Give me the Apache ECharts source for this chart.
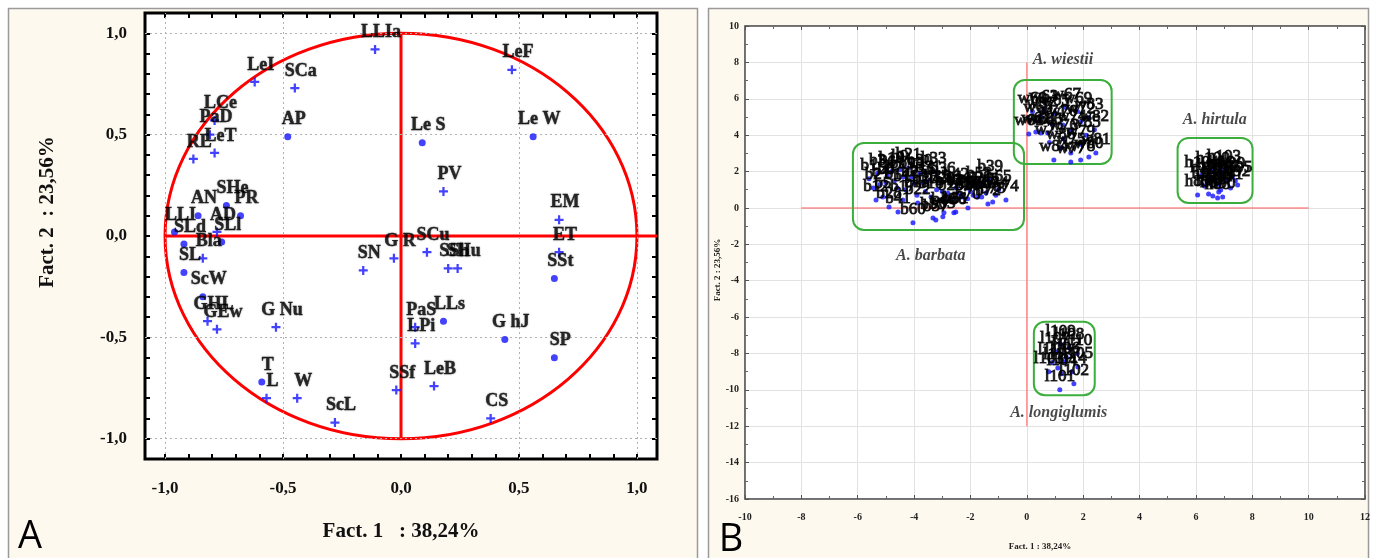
<!DOCTYPE html>
<html><head><meta charset="utf-8">
<script src="https://cdn.jsdelivr.net/npm/echarts@6/dist/echarts.min.js"></script>
<style>html,body{margin:0;padding:0;background:#fff}#c{width:1375px;height:558px}</style>
</head><body><div id="c"></div>
<script>
// ---------- Panel A : correlation circle ----------
const tickValuesA = [-1.0,-0.9,-0.8,-0.7,-0.6,-0.5,-0.4,-0.3,-0.2,-0.1,0,0.1,0.2,0.3,0.4,0.5,0.6,0.7,0.8,0.9,1.0];
const labelValuesA = [-1.0,-0.5,0,0.5,1.0];
const gridValuesA = [-1.0,-0.5,0.5,1.0];
const circleRadiusA = 1;
const axisTitleA1 = 'Fact. 1   : 38,24%';
const axisTitleA2 = 'Fact. 2  : 23,56%';
// [x, y, name]  (plus markers)
const plusVars = [
  [-0.11,0.92,'LLIa'],[-0.62,0.76,'LeI'],[-0.45,0.73,'SCa'],[-0.79,0.57,'LCe'],
  [-0.81,0.50,'PaD'],[-0.79,0.41,'LeT'],[-0.88,0.38,'RL'],[-0.78,0.02,'AD'],
  [-0.84,-0.11,'Bla'],[-0.82,-0.42,'GHL'],[-0.78,-0.46,'GEw'],[-0.53,-0.45,'G Nu'],
  [-0.57,-0.80,'L'],[-0.44,-0.80,'W'],[-0.28,-0.92,'ScL'],[-0.02,-0.76,'SSf'],
  [-0.16,-0.17,'SN'],[-0.03,-0.11,'G R'],[0.11,-0.08,'SCu'],[0.20,-0.16,'SSh'],
  [0.24,-0.16,'SHu'],[0.06,-0.45,'PaS'],[0.06,-0.53,'LPi'],[0.67,-0.08,'ET'],
  [0.67,0.08,'EM'],[0.14,-0.74,'LeB'],[0.38,-0.90,'CS'],[0.47,0.82,'LeF'],[0.18,0.22,'PV']
];
// [x, y, name]  (dot markers)
const dotVars = [
  [-0.48,0.49,'AP'],[-0.74,0.15,'SHe'],[-0.86,0.10,'AN'],[-0.68,0.10,'PR'],
  [-0.96,0.02,'LLI'],[-0.92,-0.04,'SLd'],[-0.76,-0.03,'SLl'],[-0.92,-0.18,'SL'],
  [-0.84,-0.30,'ScW'],[-0.59,-0.72,'T'],[0.18,-0.42,'LLs'],[0.44,-0.51,'G hJ'],
  [0.65,-0.60,'SP'],[0.65,-0.21,'SSt'],[0.09,0.46,'Le S'],[0.56,0.49,'Le W']
];

// ---------- Panel B : individuals ----------
const axisTitleB1 = 'Fact. 1 : 38,24%';
const axisTitleB2 = 'Fact. 2 : 23,56%';
const barbata = [
  [-5.35,0.44,'b12'],[-5.11,0.60,'b5'],[-4.89,0.05,'b28'],[-4.57,-0.22,'b41'],[-4.40,0.44,'b17'],
  [-4.04,-0.82,'b60'],[-3.87,0.27,'b22'],[-3.33,-0.55,'b55'],[-3.23,-0.66,'b57'],[-2.98,-0.49,'b63'],
  [-2.94,-0.27,'b48'],[-2.59,-0.27,'b66'],[-2.52,-0.22,'b51'],[-2.09,0.00,'b70'],[-1.74,0.60,'b68'],
  [-1.45,0.82,'b45'],[-1.38,0.22,'b72'],[-1.21,0.33,'b73'],[-0.74,0.44,'b74'],[-2.98,1.43,'b36'],
  [-5.6,1.6,'b1'],[-5.3,1.9,'b3'],[-5.0,1.4,'b8'],[-4.8,2.0,'b10'],[-4.6,1.1,'b14'],
  [-4.4,1.7,'b19'],[-4.2,2.2,'b21'],[-4.0,1.3,'b25'],[-3.8,1.9,'b30'],[-3.6,0.9,'b27'],
  [-3.5,1.5,'b31'],[-3.3,2.0,'b33'],[-3.2,1.0,'b35'],[-2.8,0.8,'b40'],[-2.5,1.1,'b42'],
  [-2.3,0.6,'b50'],[-2.0,0.9,'b52'],[-1.7,1.2,'b58'],[-1.3,1.54,'b39'],[-1.0,1.0,'b65'],
  [-5.45,1.1,'b2'],[-5.2,1.3,'b4'],[-4.95,1.8,'b6'],[-4.7,1.5,'b7'],[-4.5,2.1,'b9'],
  [-4.3,1.0,'b11'],[-4.1,1.7,'b13'],[-3.9,0.7,'b15'],[-3.7,1.4,'b16'],[-3.4,0.6,'b18'],
  [-3.0,0.9,'b20'],[-2.7,0.5,'b23'],[-2.4,0.8,'b24'],[-2.1,0.5,'b26'],[-1.9,0.7,'b29'],
  [-1.6,0.6,'b32'],[-1.1,0.7,'b34']
];
const wiestii = [
  [0.07,4.07,'w61'],[0.32,4.18,'w62'],[0.50,4.12,'w64'],[0.74,4.12,'w66'],[0.96,2.64,'w84'],
  [1.28,4.56,'w70'],[1.56,3.02,'w75'],[1.56,2.53,'w77'],[1.91,2.64,'w78'],[1.91,4.73,'w72'],
  [2.20,2.80,'w80'],[2.45,3.02,'w81'],[2.20,4.95,'w83'],
  [0.2,5.3,'w60'],[0.6,5.4,'w63'],[1.0,5.2,'w65'],[1.4,5.5,'w67'],[1.8,5.3,'w69'],
  [0.8,3.6,'w73'],[1.3,3.8,'w76'],[1.9,3.5,'w79'],[2.4,4.3,'w82'],
  [0.4,4.8,'w68'],[0.9,4.6,'w71'],[1.6,4.3,'w74'],[2.1,4.0,'w85'],[1.2,3.3,'w86'],[0.5,5.0,'w87']
];
const hirtula = [
  [6.06,0.71,'h85'],[6.45,0.77,'h86'],[6.60,0.66,'h87'],[6.77,0.55,'h88'],[6.81,0.88,'h89'],
  [6.95,0.60,'h90'],[7.23,1.10,'h91'],[7.48,1.26,'h92'],[6.70,1.37,'h93'],[6.88,0.99,'h94'],
  [6.5,1.6,'h95'],[6.9,1.8,'h96'],[7.1,1.5,'h97'],[6.3,1.2,'h98'],[7.3,1.7,'h99'],[6.6,2.0,'h100'],
  [6.4,1.5,'h101'],[6.8,1.3,'h102'],[7.0,2.1,'h103'],[6.2,1.8,'h104'],[7.4,1.5,'h105']
];
const longiglumis = [
  [1.17,-10.0,'l101'],[1.67,-9.67,'l102'],[0.78,-9.01,'l103'],[1.24,-9.12,'l104'],
  [1.81,-8.74,'l105'],[1.35,-8.46,'l106'],[1.0,-7.9,'l107'],[1.5,-7.7,'l108'],
  [1.2,-7.5,'l109'],[1.8,-8.0,'l110'],[0.9,-8.5,'l111'],[1.4,-8.2,'l112'],
  [1.1,-8.8,'l113'],[1.6,-9.0,'l114']
];
// group boxes [x0, y0, x1, y1]
const groupBoxes = [
  [-6.17,3.57,-0.10,-1.21],
  [-0.46,7.03,3.01,2.42],
  [5.35,3.85,8.01,0.27],
  [0.25,-6.26,2.41,-10.3]
];
// species names [x, y, name]
const speciesNames = [
  [1.28,8.13,'A. wiestii'],[6.67,4.83,'A. hirtula'],
  [-3.41,-2.64,'A. barbata'],[1.13,-11.26,'A. longiglumis']
];

// ---------- build ----------
const serif = 'Liberation Serif';
const fmtA = v => (Math.abs(v) < 1e-9 ? 0 : v).toFixed(1).replace('.', ',');
const blue = '#1414ff';
const plusPath = 'path://M3,0H5V3H8V5H5V8H3V5H0V3H3Z';

const axisA = (pos, showLabel, isY) => ({
  gridIndex: 0, type: 'value', position: pos,
  min: isY ? -1.1 : -1.085, max: isY ? 1.1 : 1.085,
  axisLine: {show: false, onZero: false},
  axisTick: {show: true, inside: true, length: 5, customValues: tickValuesA, lineStyle: {color: '#000', width: 2}},
  axisLabel: {show: showLabel, customValues: labelValuesA, formatter: fmtA, margin: isY ? 18 : 21,
    fontFamily: serif, fontWeight: 'bold', fontSize: 17, color: '#111'},
  splitLine: {show: false}
});
const axisB = (pos, showLabel, isY) => ({
  gridIndex: 1, type: 'value', position: pos,
  min: isY ? -16 : -10, max: isY ? 10 : 12, interval: 2,
  axisLine: {show: true, onZero: false, lineStyle: {color: '#555', width: 1.5}},
  axisTick: {show: true, inside: true, length: 4, lineStyle: {color: '#555'}},
  minorTick: {show: true, splitNumber: 2, length: 3, lineStyle: {color: '#666'}},
  axisLabel: {show: showLabel, margin: isY ? 6 : 13, fontFamily: serif, fontWeight: 'bold', fontSize: 10, color: '#222'},
  splitLine: {show: showLabel, lineStyle: {color: '#e2e2e2', width: 1}}
});

const ptLabelA = {show: true, position: 'inside', offset: [6, -17], formatter: p => p.data[2],
  fontFamily: serif, fontWeight: 'bold', fontSize: 18, color: '#000',
  textBorderColor: '#000', textBorderWidth: 0.4, textShadowColor: 'rgba(0,0,0,0.35)', textShadowBlur: 2};
const ptLabelB = {show: true, position: 'top', distance: 2, formatter: p => p.data[2],
  fontFamily: serif, fontSize: 17, color: '#000', textBorderColor: '#000', textBorderWidth: 1};

const bSeries = (data) => ({
  type: 'scatter', xAxisIndex: 2, yAxisIndex: 2, data: data, symbol: 'circle', symbolSize: 5,
  itemStyle: {color: blue}, label: ptLabelB, z: 5, silent: true
});

const option = {
  animation: false,
  backgroundColor: '#fff',
  graphic: [
    {type: 'rect', z: -10, shape: {x: 8.5, y: 8.5, width: 689, height: 560}, style: {fill: '#fef9ee', stroke: '#9a9a9a', lineWidth: 1.5}},
    {type: 'rect', z: -10, shape: {x: 708.5, y: 8.5, width: 660, height: 560}, style: {fill: '#fef9ee', stroke: '#9a9a9a', lineWidth: 1.5}},
    {type: 'text', z: 100, x: 401, y: 532, style: {text: axisTitleA1, font: 'bold 21px "Liberation Serif"', fill: '#111', textAlign: 'center', textVerticalAlign: 'middle'}},
    {type: 'text', z: 100, x: 48, y: 212, rotation: Math.PI / 2, style: {text: axisTitleA2, font: 'bold 21px "Liberation Serif"', fill: '#111', textAlign: 'center', textVerticalAlign: 'middle'}},
    {type: 'text', z: 100, x: 1040, y: 547, style: {text: axisTitleB1, font: 'bold 9px "Liberation Serif"', fill: '#222', textAlign: 'center', textVerticalAlign: 'middle'}},
    {type: 'text', z: 100, x: 718, y: 270, rotation: Math.PI / 2, style: {text: axisTitleB2, font: 'bold 9px "Liberation Serif"', fill: '#222', textAlign: 'center', textVerticalAlign: 'middle'}},
    {type: 'text', z: 100, x: 30, y: 537, style: {text: 'A', font: '38px "Open Sans"', fill: '#000', textAlign: 'center', textVerticalAlign: 'middle'}},
    {type: 'text', z: 100, x: 731, y: 540, style: {text: 'B', font: '38px "Open Sans"', fill: '#000', textAlign: 'center', textVerticalAlign: 'middle'}}
  ],
  grid: [
    {left: 145, top: 13, width: 512, height: 446, show: true, backgroundColor: '#fff', borderColor: '#000', borderWidth: 3},
    {left: 745, top: 26, width: 620, height: 473, show: true, backgroundColor: '#fff', borderColor: '#777', borderWidth: 1}
  ],
  xAxis: [axisA('bottom', true, false), axisA('top', false, false), axisB('bottom', true, false), axisB('top', false, false)],
  yAxis: [axisA('left', true, true), axisA('right', false, true), axisB('left', true, true), axisB('right', false, true)],
  series: [
    // A dotted grid lines
    {type: 'line', xAxisIndex: 0, yAxisIndex: 0, data: [], silent: true,
     markLine: {silent: true, symbol: 'none', label: {show: false}, animation: false,
       lineStyle: {color: '#b0b0b0', type: [2, 3], width: 1},
       data: gridValuesA.map(v => ({xAxis: v})).concat(gridValuesA.map(v => ({yAxis: v})))}},
    // A red circle
    {type: 'custom', xAxisIndex: 0, yAxisIndex: 0, data: [[0, 0, circleRadiusA]], silent: true, z: 2,
     renderItem: (params, api) => {
       const r = api.value(2);
       const c = api.coord([api.value(0), api.value(1)]);
       const px = api.coord([api.value(0) + r, api.value(1)]);
       const py = api.coord([api.value(0), api.value(1) + r]);
       return {type: 'ellipse', shape: {cx: c[0], cy: c[1], rx: px[0] - c[0], ry: c[1] - py[1]},
               style: {fill: 'none', stroke: '#ff0000', lineWidth: 3}};
     }},
    // A red axes
    {type: 'line', xAxisIndex: 0, yAxisIndex: 0, data: [[-1, 0], [1.085, 0]], symbol: 'none', silent: true, z: 2,
     lineStyle: {color: '#ff0000', width: 3}},
    {type: 'line', xAxisIndex: 0, yAxisIndex: 0, data: [[0, 1], [0, -1]], symbol: 'none', silent: true, z: 2,
     lineStyle: {color: '#ff0000', width: 3}},
    // A points
    {type: 'scatter', xAxisIndex: 0, yAxisIndex: 0, data: plusVars, symbol: plusPath, symbolSize: 9,
     itemStyle: {color: blue}, label: ptLabelA, z: 5, silent: true},
    {type: 'scatter', xAxisIndex: 0, yAxisIndex: 0, data: dotVars, symbol: 'circle', symbolSize: 7,
     itemStyle: {color: blue}, label: ptLabelA, z: 5, silent: true},

    // B red axes
    {type: 'line', xAxisIndex: 2, yAxisIndex: 2, data: [[-8, 0], [10, 0]], symbol: 'none', silent: true, z: 2,
     lineStyle: {color: 'rgba(255,70,70,0.6)', width: 1.5}},
    {type: 'line', xAxisIndex: 2, yAxisIndex: 2, data: [[0, 8], [0, -12]], symbol: 'none', silent: true, z: 2,
     lineStyle: {color: 'rgba(255,70,70,0.6)', width: 1.5}},
    // B group boxes
    {type: 'custom', xAxisIndex: 2, yAxisIndex: 2, data: groupBoxes, silent: true, z: 3,
     renderItem: (params, api) => {
       const a = api.coord([api.value(0), api.value(1)]);
       const b = api.coord([api.value(2), api.value(3)]);
       return {type: 'rect', shape: {x: a[0], y: a[1], width: b[0] - a[0], height: b[1] - a[1], r: 11},
               style: {fill: 'none', stroke: '#3cae3c', lineWidth: 2}};
     }},
    bSeries(barbata), bSeries(wiestii), bSeries(hirtula), bSeries(longiglumis),
    // B species names
    {type: 'scatter', xAxisIndex: 2, yAxisIndex: 2, data: speciesNames, symbolSize: 0, silent: true, z: 6,
     label: {show: true, position: 'inside', formatter: p => p.data[2], fontFamily: serif,
       fontStyle: 'italic', fontWeight: 'bold', fontSize: 16, color: '#1a1a1a', textBorderWidth: 0}}
  ]
};
const chart = echarts.init(document.getElementById('c'), null, {renderer: 'canvas'});
chart.setOption(option);
</script></body></html>
